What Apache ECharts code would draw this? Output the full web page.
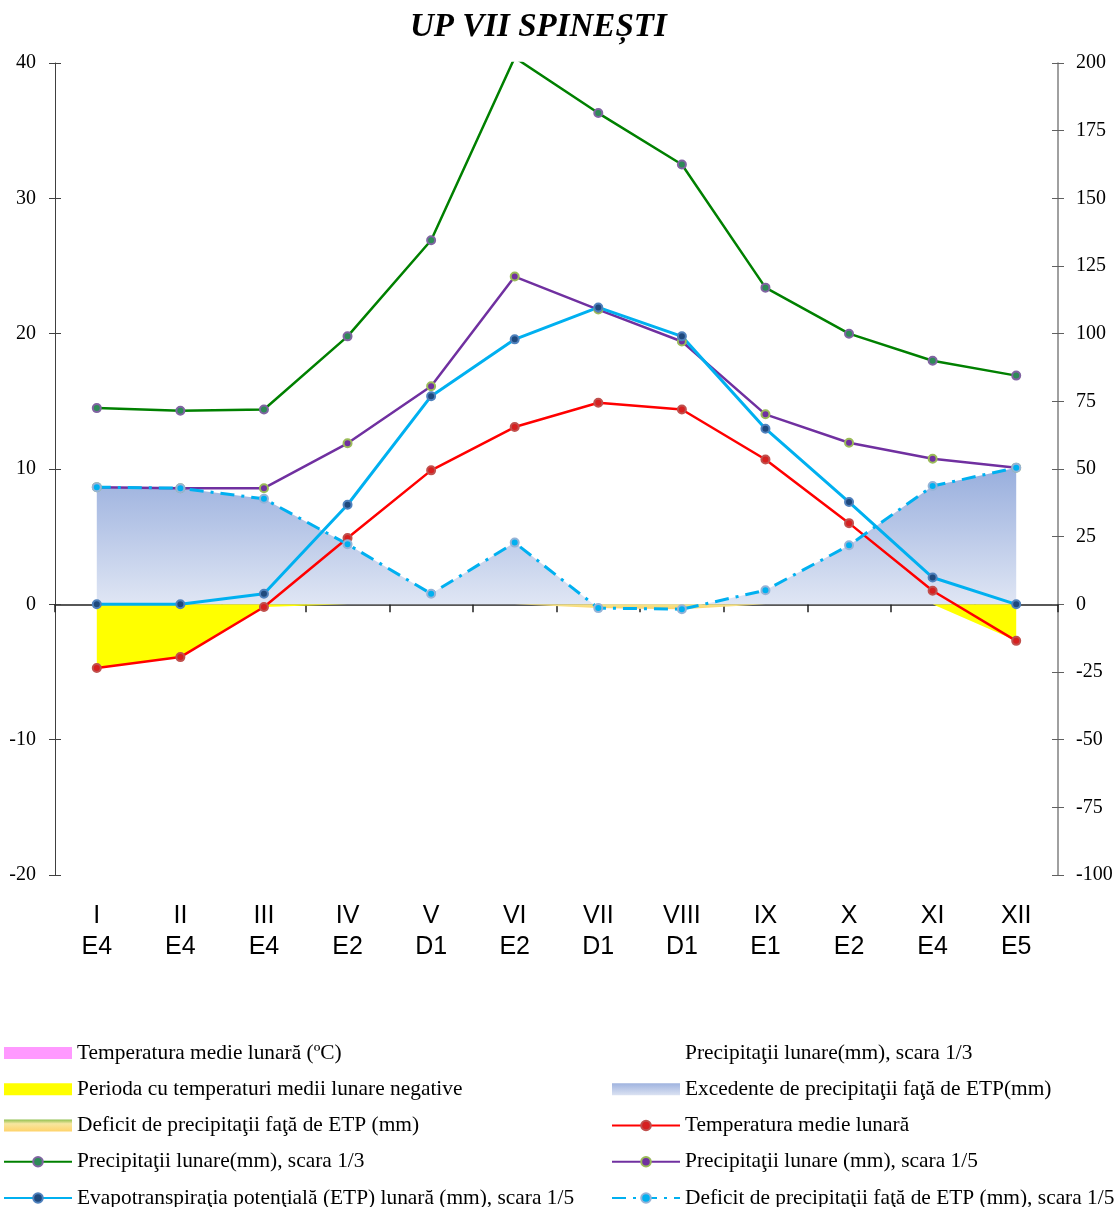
<!DOCTYPE html>
<html>
<head>
<meta charset="utf-8">
<script src="https://cdn.jsdelivr.net/npm/echarts@6/dist/echarts.min.js"></script>
<style>
  html, body { margin: 0; padding: 0; background: #ffffff; }
  #chart { width: 1117px; height: 1207px; }
</style>
</head>
<body>
<div id="chart"></div>
<script>
// Months and their climate class
const months = ['I', 'II', 'III', 'IV', 'V', 'VI', 'VII', 'VIII', 'IX', 'X', 'XI', 'XII'];
const climateClass = ['E4', 'E4', 'E4', 'E2', 'D1', 'E2', 'D1', 'D1', 'E1', 'E2', 'E4', 'E5'];

// Left axis (°C, precipitation at 1/3 scale)
const temperature = [-4.7, -3.9, -0.2, 4.9, 9.9, 13.1, 14.9, 14.4, 10.7, 6.0, 1.0, -2.7];
const precipitationThird = [14.5, 14.3, 14.4, 19.8, 26.9, 40.4, 36.3, 32.5, 23.4, 20.0, 18.0, 16.9];
const negativeTemperature = [-4.7, -3.9, -0.2, 0, null, null, null, null, null, null, 0, -2.7];

// Right axis (mm, 1/5 scale)
const precipitationFifth = [43.3, 42.9, 42.9, 59.5, 80.6, 121.1, 108.9, 97.1, 70.2, 59.7, 53.8, 50.5];
const etp = [0, 0, 3.9, 36.8, 76.9, 97.9, 109.7, 99.0, 64.9, 37.8, 9.9, 0];
const waterBalance = [43.3, 42.9, 39.0, 22.2, 3.9, 22.8, -1.4, -1.8, 5.2, 21.8, 43.7, 50.5];
const waterDeficit = [0, 0, 0, 0, 0, 0, -1.4, -1.8, 0, 0, 0, 0];

// Left and right axis scales
const leftAxis = { min: -20, max: 40, interval: 10 };
const rightAxis = { min: -100, max: 200, interval: 25 };

const SERIF = '"Liberation Serif", "Times New Roman", serif';
const SANS = '"Liberation Sans", Arial, sans-serif';

const grad = (stops) => ({ type: 'linear', x: 0, y: 0, x2: 0, y2: 1, colorStops: stops });
const excessFill = grad([{ offset: 0, color: '#98aedd' }, { offset: 1, color: '#e2e8f5' }]);
const excessLegend = grad([{ offset: 0, color: '#9fb3df' }, { offset: 1, color: '#dbe2f2' }]);
const deficitFill = grad([{ offset: 0, color: '#f3e48a' }, { offset: 1, color: '#ffd36b' }]);
const deficitLegend = grad([{ offset: 0, color: '#8fbf4f' }, { offset: 0.35, color: '#f6e7a0' }, { offset: 1, color: '#ffd36b' }]);

const N = {
  tempC: 'Temperatura medie lunară (ºC)',
  negT: 'Perioda cu temperaturi medii lunare negative',
  deficit: 'Deficit de precipitaţii faţă de ETP (mm)',
  p3: 'Precipitaţii lunare(mm), scara 1/3',
  etp: 'Evapotranspiraţia potenţială (ETP) lunară (mm), scara 1/5',
  p3b: 'Precipitaţii lunare(mm), scara 1/3 ',
  excess: 'Excedente de precipitaţii faţă de ETP(mm)',
  temp: 'Temperatura medie lunară',
  p5: 'Precipitaţii lunare (mm), scara 1/5',
  balance: 'Deficit de precipitaţii faţă de ETP (mm), scara 1/5'
};

const legendBase = {
  orient: 'vertical',
  top: 1042,
  height: 240,
  padding: 0,
  itemWidth: 68,
  itemHeight: 12,
  itemGap: 14.25,
  selectedMode: false,
  textStyle: { fontFamily: SERIF, fontSize: 21.4, lineHeight: 22, color: '#000' }
};

function lineSeries(name, data, yIdx, color, width, mark, extra) {
  return Object.assign({
    name, type: 'line', data, yAxisIndex: yIdx,
    symbol: 'circle', symbolSize: 8,
    lineStyle: { color, width },
    itemStyle: { color: mark.fill, borderColor: mark.border, borderWidth: 2 },
    z: 3
  }, extra || {});
}

const chart = echarts.init(document.getElementById('chart'), null, { renderer: 'canvas' });
chart.setOption({
  animation: false,
  backgroundColor: '#ffffff',
  title: {
    text: 'UP VII SPINEȘTI',
    left: 410, top: 11, padding: 0,
    textStyle: { fontFamily: SERIF, fontStyle: 'italic', fontWeight: 'bold', fontSize: 33, color: '#000' }
  },
  grid: { left: 55, right: 59, top: 63, bottom: 332, containLabel: false },
  legend: [
    Object.assign({}, legendBase, {
      left: 3,
      data: [
        { name: N.tempC, icon: 'rect', itemStyle: { color: '#ff99ff' } },
        { name: N.negT, icon: 'rect', itemStyle: { color: '#ffff00' } },
        { name: N.deficit, icon: 'rect', itemStyle: { color: deficitLegend } },
        { name: N.p3 },
        { name: N.etp }
      ]
    }),
    Object.assign({}, legendBase, {
      left: 611,
      data: [
        { name: N.p3b, icon: 'rect', itemStyle: { color: 'rgba(0,0,0,0)' } },
        { name: N.excess, icon: 'rect', itemStyle: { color: excessLegend } },
        { name: N.temp },
        { name: N.p5 },
        { name: N.balance }
      ]
    })
  ],
  xAxis: [
    {
      type: 'category', data: months, boundaryGap: true,
      axisLine: { onZero: true, onZeroAxisIndex: 0, lineStyle: { color: '#202020', width: 1.5 } },
      axisTick: { show: true, interval: 0, length: 8, lineStyle: { color: '#202020', width: 1.5 } },
      axisLabel: { show: false }, splitLine: { show: false }
    },
    {
      type: 'category', data: months, boundaryGap: true, position: 'bottom',
      axisLine: { show: false, onZero: false },
      axisTick: { show: false },
      axisLabel: {
        interval: 0, margin: 26, color: '#000',
        fontFamily: SANS, fontSize: 25, lineHeight: 31,
        formatter: (v, i) => v + '\n' + climateClass[i]
      },
      splitLine: { show: false }
    },
    {
      type: 'category', data: months, boundaryGap: true,
      axisLine: { show: false, onZero: true, onZeroAxisIndex: 0 },
      axisTick: { show: true, inside: true, interval: 0, length: 8, lineStyle: { color: '#202020', width: 1.5 } },
      axisLabel: { show: false }, splitLine: { show: false }
    }
  ],
  yAxis: [
    Object.assign({ type: 'value', position: 'left' }, leftAxis, {
      axisLine: { show: true, lineStyle: { color: '#404040', width: 1 } },
      axisTick: { show: true, length: 6, lineStyle: { color: '#404040' } },
      axisLabel: { margin: 19, color: '#000', fontFamily: SERIF, fontSize: 20 },
      splitLine: { show: false }
    }),
    Object.assign({ type: 'value', position: 'right' }, rightAxis, {
      axisLine: { show: true, lineStyle: { color: '#808080', width: 1.5 } },
      axisTick: { show: true, length: 6, lineStyle: { color: '#606060' } },
      axisLabel: { margin: 18, color: '#000', fontFamily: SERIF, fontSize: 20 },
      splitLine: { show: false }
    }),
    Object.assign({ type: 'value', position: 'left' }, leftAxis, {
      axisLine: { show: false },
      axisTick: { show: true, inside: true, length: 6, lineStyle: { color: '#404040' } },
      axisLabel: { show: false }, splitLine: { show: false }
    }),
    Object.assign({ type: 'value', position: 'right' }, rightAxis, {
      axisLine: { show: false },
      axisTick: { show: true, inside: true, length: 6, lineStyle: { color: '#606060' } },
      axisLabel: { show: false }, splitLine: { show: false }
    })
  ],
  series: [
    // legend-only entries
    { name: N.tempC, type: 'line', data: [], itemStyle: { color: '#ff99ff' } },
    { name: N.p3b, type: 'line', data: [], itemStyle: { color: 'rgba(0,0,0,0)' } },
    // fills
    {
      name: N.negT, type: 'line', data: negativeTemperature, yAxisIndex: 0,
      symbol: 'none', lineStyle: { width: 0 }, itemStyle: { color: '#ffff00' },
      areaStyle: { color: '#ffff00', opacity: 1, origin: 0 }, z: 1
    },
    {
      name: N.excess, type: 'line', data: waterBalance, yAxisIndex: 1,
      symbol: 'none', lineStyle: { width: 0 }, itemStyle: { color: '#a9bce3' },
      areaStyle: { color: excessFill, opacity: 1, origin: 0 }, z: 1
    },
    {
      name: N.deficit, type: 'line', data: waterDeficit, yAxisIndex: 1,
      symbol: 'none', lineStyle: { width: 0 }, itemStyle: { color: '#f3e48a' },
      areaStyle: { color: deficitFill, opacity: 1, origin: 0 }, z: 1
    },
    // lines
    lineSeries(N.p3, precipitationThird, 0, '#008000', 2.5, { fill: '#2e8b57', border: '#8064a2' }),
    lineSeries(N.p5, precipitationFifth, 1, '#7030a0', 2.5, { fill: '#7030a0', border: '#9bbb59' }),
    lineSeries(N.etp, etp, 1, '#00b0f0', 3, { fill: '#1f497d', border: '#4f81bd' }),
    lineSeries(N.temp, temperature, 0, '#ff0000', 2.5, { fill: '#d62020', border: '#c0504d' }),
    lineSeries(N.balance, waterBalance, 1, '#00b0f0', 3, { fill: '#00b0f0', border: '#95b3d7' },
      { lineStyle: { color: '#00b0f0', width: 3, type: [14, 7, 3, 7] } })
  ]
});
</script>
</body>
</html>
